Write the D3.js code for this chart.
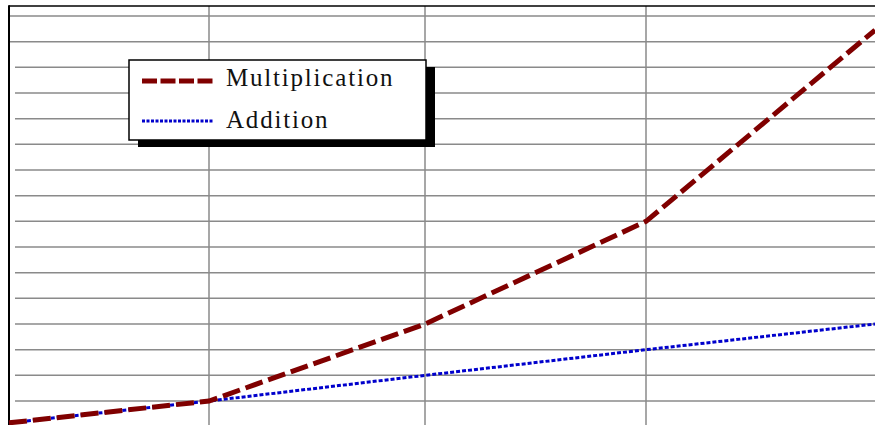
<!DOCTYPE html>
<html>
<head>
<meta charset="utf-8">
<script src="https://cdn.jsdelivr.net/npm/d3@7"></script>
<style>
  body { margin: 0; background: #fff; }
  svg { display: block; }
</style>
</head>
<body>
<script>
var w = 875;
var h = 425;

// data
var steps = [1, 2, 3, 4, 5];
var multiplication = [0.15, 1, 4, 8, 15.45];
var addition = [0.15, 1, 2, 3, 4];
var seriesNames = ["Multiplication", "Addition"];
var yTicks = d3.range(1, 17);

var svg = d3.select("body")
  .append("svg")
  .attr("width", w)
  .attr("height", h);

// x gridlines are not evenly spaced in the original
var x = d3.scaleLinear()
  .domain(steps)
  .range([9, 209, 425, 646, 875]);

var y = d3.scaleLinear()
  .domain([0, 16])
  .range([426.7, 16]);

// horizontal gridlines
svg.selectAll("line.hgrid")
  .data(yTicks)
  .enter()
  .append("line")
  .attr("class", "hgrid")
  .attr("x1", function (d) { return d >= 15 ? 9 : 15; })
  .attr("x2", w)
  .attr("y1", function (d) { return y(d); })
  .attr("y2", function (d) { return y(d); })
  .attr("stroke", "#8a8a8a")
  .attr("stroke-width", 1.5);

// vertical gridlines
svg.selectAll("line.vgrid")
  .data(steps.slice(1, 4))
  .enter()
  .append("line")
  .attr("class", "vgrid")
  .attr("x1", function (d) { return x(d); })
  .attr("x2", function (d) { return x(d); })
  .attr("y1", 6)
  .attr("y2", h)
  .attr("stroke", "#8a8a8a")
  .attr("stroke-width", 1.5);

// plot border (top + left)
svg.append("line")
  .attr("x1", x(1)).attr("x2", w)
  .attr("y1", 6).attr("y2", 6)
  .attr("stroke", "#000")
  .attr("stroke-width", 1.5);
svg.append("line")
  .attr("x1", x(1)).attr("x2", x(1))
  .attr("y1", 5.25).attr("y2", h)
  .attr("stroke", "#000")
  .attr("stroke-width", 2);

var line = d3.line()
  .x(function (d, i) { return x(steps[i]); })
  .y(function (d) { return y(d); });

svg.append("path")
  .datum(addition)
  .attr("d", line)
  .attr("fill", "none")
  .attr("stroke", "#0000cc")
  .attr("stroke-width", 3)
  .attr("stroke-dasharray", "4,2");

svg.append("path")
  .datum(multiplication)
  .attr("d", line)
  .attr("fill", "none")
  .attr("stroke", "#800000")
  .attr("stroke-width", 5)
  .attr("stroke-dasharray", "18,6");

// legend
var legend = svg.append("g").attr("transform", "translate(129,60)");

legend.append("rect") //shadow
  .attr("x", 9).attr("y", 7)
  .attr("width", 297).attr("height", 80)
  .attr("fill", "#000");

legend.append("rect")
  .attr("x", 0).attr("y", 0)
  .attr("width", 297).attr("height", 80)
  .attr("fill", "#fff")
  .attr("stroke", "#000")
  .attr("stroke-width", 1.5);

var styles = [
  { color: "#800000", width: 5, dash: "15,3.5" },
  { color: "#0000cc", width: 3, dash: "3,1.5" }
];

var rows = legend.selectAll("g.row")
  .data(seriesNames)
  .enter()
  .append("g")
  .attr("class", "row")
  .attr("transform", function (d, i) { return "translate(0," + (i * 40) + ")"; });

rows.append("line")
  .attr("x1", 13).attr("x2", 85)
  .attr("y1", 21).attr("y2", 21)
  .attr("stroke", function (d, i) { return styles[i].color; })
  .attr("stroke-width", function (d, i) { return styles[i].width; })
  .attr("stroke-dasharray", function (d, i) { return styles[i].dash; });

rows.append("text")
  .attr("x", 97)
  .attr("y", function (d, i) { return i == 0 ? 26 : 28; })
  .attr("font-family", "Liberation Serif, Times New Roman, serif")
  .attr("font-size", 25)
  .attr("letter-spacing", 1.8)
  .attr("fill", "#111")
  .text(function (d) { return d; });
</script>
</body>
</html>
